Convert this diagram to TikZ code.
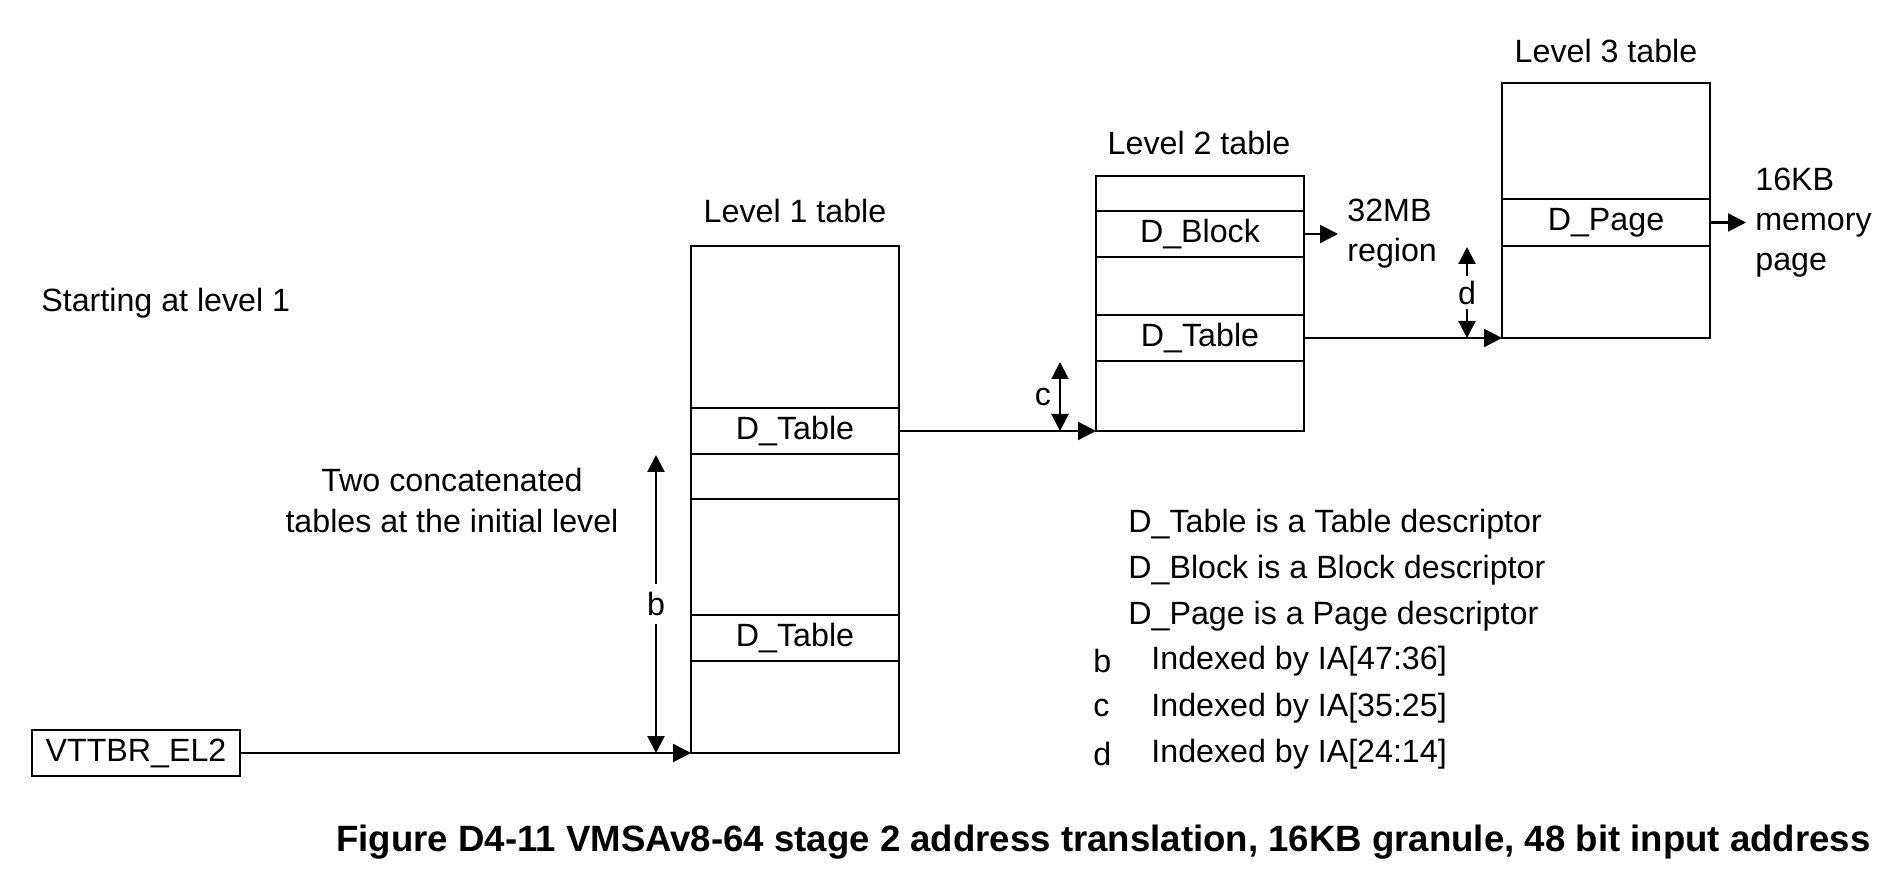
\documentclass[tikz,border=0pt]{standalone}
\usepackage{fontspec}
\setmainfont{Liberation Sans}
\usetikzlibrary{arrows.meta}
\begin{document}
\begin{tikzpicture}[x=0.5pt,y=-0.5pt, font=\fontsize{16.1}{20}\selectfont,
  box/.style={draw, line width=1.15pt, inner sep=0pt, outer sep=0pt, anchor=north west, minimum width=104pt},
  lbl/.style={inner sep=0pt},
  arr/.style={line width=1.15pt, -{Triangle[length=9pt,width=9pt]}},
  darr/.style={line width=1.15pt, {Triangle[length=8.5pt,width=8.5pt]}-{Triangle[length=8.5pt,width=8.5pt]}},
]
\useasboundingbox (0,0) rectangle (1890,876);

% Level 1 table
\node[box, minimum height=253.5pt] (L1) at (691,246) {};
\node[box, minimum height=23pt] (L1a) at (691,408) {D\_Table};
\node[box, minimum height=22.5pt] (L1b) at (691,454) {};
\node[box, minimum height=23pt] (L1c) at (691,615) {D\_Table};
\node[lbl] (L1t) at (795,211) {Level 1 table};

% Level 2 table
\node[box, minimum height=127.5pt] (L2) at (1096,176) {};
\node[box, minimum height=23pt] (L2a) at (1096,211) {D\_Block};
\node[box, minimum height=23pt] (L2b) at (1096,315) {D\_Table};
\node[lbl] (L2t) at (1199,143) {Level 2 table};

% Level 3 table
\node[box, minimum height=127.5pt] (L3) at (1502,83) {};
\node[box, minimum height=23.5pt] (L3a) at (1502,199) {D\_Page};
\node[lbl] (L3t) at (1606,51) {Level 3 table};

% VTTBR
\node[draw, line width=1.15pt, outer sep=0pt, minimum width=104pt, minimum height=23pt, inner sep=0pt] (vt) at (136,753) {VTTBR\_EL2};

% connectors
\draw[arr] (vt.east) -- (L1.south west);
\draw[arr] (L1a.east) -- (L2.south west);
\draw[arr] (L2b.east) -- (L3.south west);
\coordinate (r32) at (1338,234);
\draw[arr] (L2a.east) -- (r32);
\coordinate (p16) at (1746,222.5);
\draw[arr] (L3a.east) -- (p16);

% index arrows
\coordinate (bt) at (656,455);
\coordinate (bb) at (656,753);
\draw[darr] (bt) -- (bb);
\node[fill=white, inner xsep=1pt, inner ysep=4pt] (blab) at (656,604) {b};

\coordinate (ct) at (1060,362);
\coordinate (cb) at (1060,431);
\draw[darr] (ct) -- (cb);
\node[lbl] (clab) at (1043,397) {c};

\coordinate (dt) at (1467,247);
\coordinate (db) at (1467,338);
\draw[darr] (dt) -- (db);
\node[fill=white, inner xsep=1pt, inner ysep=2.5pt] (dlab) at (1467,292.5) {d};

% texts
\node[lbl, anchor=west] (start) at (41,303) {Starting at level 1};
\node[lbl, align=center, font=\fontsize{16.1}{20.5}\selectfont] (two) at (452,500) {Two concatenated\\tables at the initial level};
\node[lbl, anchor=west, align=left] (r32t) at (1347,234) {32MB\\region};
\node[lbl, anchor=west, align=left] (p16t) at (1755,222.5) {16KB\\memory\\page};

% legend
\node[lbl, anchor=west] (lg1) at (1128,524) {D\_Table is a Table descriptor};
\node[lbl, anchor=west] (lg2) at (1128,570) {D\_Block is a Block descriptor};
\node[lbl, anchor=west] (lg3) at (1128,616) {D\_Page is a Page descriptor};
\node[lbl, anchor=west] (lgb) at (1093,661) {b};
\node[lbl, anchor=west] (lgbt) at (1151,661) {Indexed by IA[47:36]};
\node[lbl, anchor=west] (lgc) at (1093,708) {c};
\node[lbl, anchor=west] (lgct) at (1151,708) {Indexed by IA[35:25]};
\node[lbl, anchor=west] (lgd) at (1093,754) {d};
\node[lbl, anchor=west] (lgdt) at (1151,754) {Indexed by IA[24:14]};

% caption
\node[lbl, anchor=east, font=\fontsize{18.3}{22}\selectfont\bfseries] (cap) at (1871,842) {Figure D4-11 VMSAv8-64 stage 2 address translation, 16KB granule, 48 bit input address};
\end{tikzpicture}
\end{document}
